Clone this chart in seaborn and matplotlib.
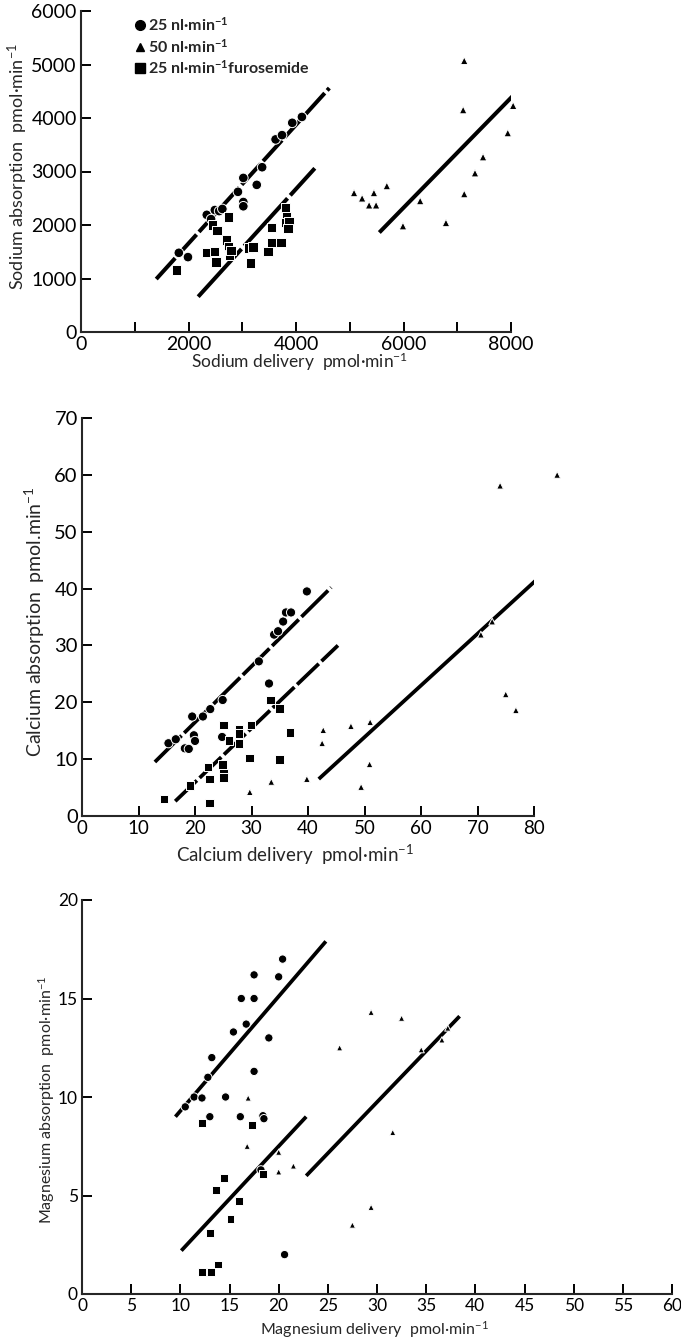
import matplotlib
matplotlib.use("Agg")
import matplotlib.pyplot as plt
from matplotlib.lines import Line2D
import numpy as np
import pandas as pd
import seaborn as sns

# ---------------- Sodium ----------------
na_25_x = [1820, 1990, 2340, 2420, 2490, 2570, 2630, 2920, 3020, 3020, 3020, 3270, 3370, 3620, 3740, 3930, 4110]
na_25_y = [1480, 1400, 2190, 2110, 2280, 2260, 2300, 2620, 2880, 2430, 2350, 2750, 3080, 3600, 3680, 3910, 4020]
na_50_x = [5080, 5230, 5360, 5490, 5450, 5690, 5990, 6310, 6790, 7130, 7110, 7130, 7330, 7480, 7940, 8040]
na_50_y = [2600, 2500, 2370, 2370, 2600, 2730, 1980, 2450, 2040, 2580, 4150, 5070, 2970, 3270, 3720, 4230]
na_furo_x = [1770, 2330, 2440, 2490, 2510, 2530, 2700, 2740, 2740, 2770, 2790, 3110, 3200, 3160, 3480, 3540,
             3540, 3720, 3810, 3820, 3800, 3870, 3850]
na_furo_y = [1160, 1480, 2000, 1500, 1310, 1900, 1720, 2150, 1590, 1440, 1520, 1570, 1590, 1290, 1500, 1960,
             1680, 1680, 2320, 2150, 2040, 2060, 1940]
na_fit_25_x, na_fit_25_y = [1400, 4620], [990, 4560]
na_fit_furo_x, na_fit_furo_y = [2180, 4350], [660, 3060]
na_fit_50_x, na_fit_50_y = [5550, 8070], [1860, 4450]

# ---------------- Calcium ----------------
ca_25_x = [15.3, 16.6, 18.2, 18.9, 19.5, 19.8, 20.0, 21.4, 22.7, 24.9, 24.8, 31.3, 33.1, 34.0, 34.7, 35.6, 36.1, 37.0, 39.8]
ca_25_y = [12.8, 13.5, 11.9, 11.8, 17.5, 14.2, 13.2, 17.5, 18.8, 20.4, 13.9, 27.2, 23.3, 31.9, 32.5, 34.2, 35.8, 35.8, 39.5]
ca_50_x = [29.7, 33.5, 39.8, 42.7, 42.5, 47.6, 51.0, 50.9, 49.4, 70.6, 72.6, 74.0, 84.1, 75.0, 76.8]
ca_50_y = [4.2, 6.0, 6.5, 15.1, 12.8, 15.8, 16.5, 9.1, 5.1, 31.9, 34.2, 58.1, 60.0, 21.4, 18.6]
ca_furo_x = [14.5, 19.1, 22.3, 22.6, 22.6, 24.9, 25.0, 25.1, 25.1, 26.0, 27.8, 27.8, 27.8, 29.6, 29.9, 33.3,
             34.9, 34.9, 36.8]
ca_furo_y = [3.0, 5.4, 8.6, 6.5, 2.3, 9.1, 7.5, 6.8, 16.0, 13.3, 15.3, 14.5, 12.8, 10.2, 16.0, 20.4,
             18.9, 10.0, 14.7]
ca_fit_25_x, ca_fit_25_y = [12.9, 44.1], [9.5, 40.2]
ca_fit_furo_x, ca_fit_furo_y = [16.5, 45.3], [2.6, 30.0]
ca_fit_50_x, ca_fit_50_y = [41.9, 80.5], [6.5, 41.6]

# ---------------- Magnesium ----------------
mg_25_x = [10.5, 11.4, 12.2, 12.8, 13.2, 13.0, 14.6, 15.4, 16.2, 16.1, 16.7, 17.5, 17.5, 17.5, 18.4, 18.5,
           19.0, 20.0, 20.4, 20.6, 18.2]
mg_25_y = [9.5, 10.0, 9.95, 11.0, 12.0, 9.0, 10.0, 13.3, 15.0, 9.0, 13.7, 16.2, 15.0, 11.3, 9.05, 8.9,
           13.0, 16.1, 17.0, 2.0, 6.3]
mg_50_x = [16.9, 16.8, 20.0, 20.0, 21.5, 26.2, 29.4, 32.5, 34.5, 36.6, 37.2, 31.6, 29.4, 27.5]
mg_50_y = [9.95, 7.5, 7.2, 6.2, 6.5, 12.5, 14.3, 14.0, 12.4, 12.9, 13.5, 8.2, 4.4, 3.5]
mg_furo_x = [12.2, 17.3, 14.4, 13.6, 16.0, 15.1, 13.0, 12.2, 13.1, 13.8, 18.4]
mg_furo_y = [8.7, 8.6, 5.9, 5.3, 4.7, 3.8, 3.1, 1.1, 1.1, 1.5, 6.1]
mg_fit_25_x, mg_fit_25_y = [9.5, 24.8], [9.0, 17.9]
mg_fit_furo_x, mg_fit_furo_y = [10.1, 22.8], [2.2, 9.0]
mg_fit_50_x, mg_fit_50_y = [22.8, 38.4], [6.0, 14.1]

GROUPS = ["25", "50", "furo"]
GROUP_LABELS = ["25 nl·min$^{-1}$", "50 nl·min$^{-1}$", "25 nl·min$^{-1}$furosemide"]
MARKERS = {"25": "o", "50": "^", "furo": "s"}

sns.set_theme(style="ticks")
plt.rcParams["font.family"] = ["Lato", "DejaVu Sans"]
plt.rcParams["mathtext.default"] = "regular"
plt.rcParams["axes.linewidth"] = 1.5

W, H = 681, 1341
fig = plt.figure(figsize=(W / 100, H / 100), dpi=100)


def add_axes_px(left, top, right, bottom):
    return fig.add_axes([left / W, 1 - bottom / H, (right - left) / W, (bottom - top) / H])


def frame(xs, ys):
    rows = []
    for g, (x, y) in zip(GROUPS, zip(xs, ys)):
        rows.append(pd.DataFrame({"delivery": x, "absorption": y, "group": g}))
    return pd.concat(rows, ignore_index=True)


def panel(ax, df, fits, sizes, lw):
    for (fx, fy), dash in fits:
        line, = ax.plot(fx, fy, color="black", lw=lw, solid_capstyle="butt", zorder=2)
        if dash is not None:
            line.set_dashes(dash)
            line.set_dash_capstyle("butt")
    sns.scatterplot(data=df, x="delivery", y="absorption", style="group", markers=MARKERS,
                    size="group", sizes=sizes, color="black", edgecolor="white", linewidth=0.7,
                    legend=False, ax=ax, zorder=3, clip_on=False)
    sns.despine(ax=ax)
    ax.tick_params(which="both", direction="in", length=7, width=1.4, pad=3, colors="black")
    ax.set_facecolor("white")


# ---- Sodium panel ----
ax1 = add_axes_px(81, 11, 511, 332)
df_na = frame([na_25_x, na_50_x, na_furo_x], [na_25_y, na_50_y, na_furo_y])
panel(ax1, df_na,
      [((na_fit_25_x, na_fit_25_y), (7, 0.9)),
       ((na_fit_furo_x, na_fit_furo_y), (16, 1.0)),
       ((na_fit_50_x, na_fit_50_y), None)],
      {"25": 48, "50": 30, "furo": 44}, 2.9)
ax1.set_xlim(0, 8000)
ax1.set_ylim(0, 6000)
ax1.set_xticks([0, 2000, 4000, 6000, 8000])
ax1.set_xticks([1000, 3000, 5000, 7000], minor=True)
ax1.set_yticks(np.arange(0, 6001, 1000))
ax1.tick_params(labelsize=14)
ax1.set_xlabel("Sodium delivery  pmol·min$^{-1}$", fontsize=12.5)
ax1.set_ylabel("Sodium absorption  pmol·min$^{-1}$", fontsize=13)
ax1.xaxis.set_label_coords((300 - 81) / 430, (332 - 362) / 321)
ax1.yaxis.set_label_coords((18 - 81) / 430, (332 - 167) / 321)
ax1.xaxis.label.set_va("center")
ax1.yaxis.label.set_va("center")

handles = [Line2D([], [], ls="none", marker=MARKERS[g], color="black",
                  markersize=ms) for g, ms in zip(GROUPS, [7.0, 5.5, 6.5])]
ax1.legend(handles, GROUP_LABELS, loc="upper left", bbox_to_anchor=(136 / W, 1 - 16 / H),
           bbox_transform=fig.transFigure, frameon=False, handlelength=0.5, handletextpad=0.25,
           labelspacing=0.22, borderaxespad=0, borderpad=0,
           prop={"size": 11.5, "weight": "bold"})

# ---- Calcium panel ----
ax2 = add_axes_px(82, 418, 534, 816)
df_ca = frame([ca_25_x, ca_50_x, ca_furo_x], [ca_25_y, ca_50_y, ca_furo_y])
panel(ax2, df_ca,
      [((ca_fit_25_x, ca_fit_25_y), (10, 1.0)),
       ((ca_fit_furo_x, ca_fit_furo_y), (8, 1.0)),
       ((ca_fit_50_x, ca_fit_50_y), None)],
      {"25": 44, "50": 24, "furo": 40}, 2.7)
ax2.set_xlim(0, 80)
ax2.set_ylim(0, 70)
ax2.set_xticks(np.arange(0, 81, 10))
ax2.set_yticks(np.arange(0, 71, 10))
ax2.tick_params(axis="y", labelsize=14.5)
ax2.tick_params(axis="x", labelsize=13.5)
ax2.set_xlabel("Calcium delivery  pmol·min$^{-1}$", fontsize=13.5)
ax2.set_ylabel("Calcium absorption  pmol.min$^{-1}$", fontsize=14)
ax2.xaxis.set_label_coords((295 - 82) / 452, (816 - 855) / 398)
ax2.yaxis.set_label_coords((35 - 82) / 452, (816 - 622) / 398)
ax2.xaxis.label.set_va("center")
ax2.yaxis.label.set_va("center")

# ---- Magnesium panel ----
ax3 = add_axes_px(82, 900, 672, 1294)
df_mg = frame([mg_25_x, mg_50_x, mg_furo_x], [mg_25_y, mg_50_y, mg_furo_y])
panel(ax3, df_mg,
      [((mg_fit_25_x, mg_fit_25_y), None),
       ((mg_fit_furo_x, mg_fit_furo_y), None),
       ((mg_fit_50_x, mg_fit_50_y), None)],
      {"25": 36, "50": 20, "furo": 32}, 2.7)
ax3.set_xlim(0, 60)
ax3.set_ylim(0, 20)
ax3.set_xticks(np.arange(0, 61, 5))
ax3.set_yticks(np.arange(0, 21, 5))
ax3.tick_params(labelsize=12.5)
ax3.set_xlabel("Magnesium delivery  pmol·min$^{-1}$", fontsize=11.5)
ax3.set_ylabel("Magnesium absorption  pmol·min$^{-1}$", fontsize=11.5)
ax3.xaxis.set_label_coords((374 - 82) / 590, (1294 - 1330) / 394)
ax3.yaxis.set_label_coords((47 - 82) / 590, (1294 - 1100) / 394)
ax3.xaxis.label.set_va("center")
ax3.yaxis.label.set_va("center")

fig.savefig("out.png", dpi=100, facecolor="white")
